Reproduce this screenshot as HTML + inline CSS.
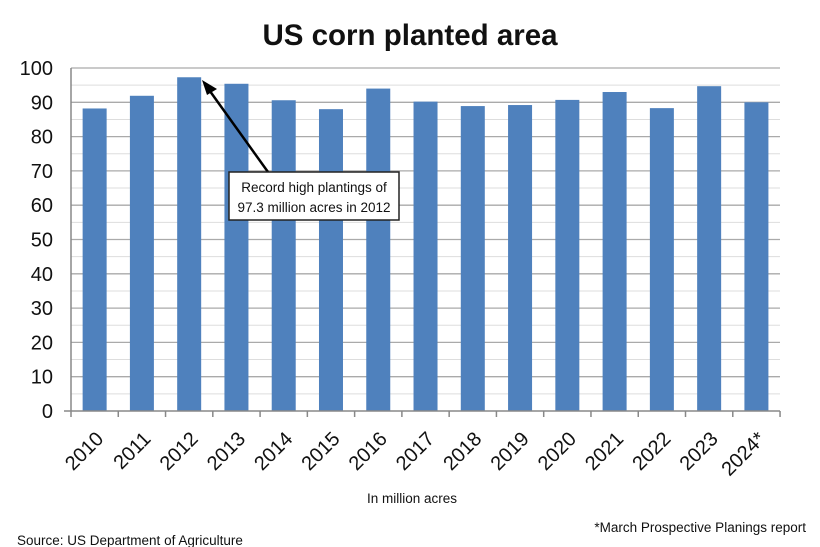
<!DOCTYPE html>
<html><head><meta charset="utf-8"><style>
body{margin:0;background:#fff}
svg{display:block;font-family:"Liberation Sans",sans-serif}
</style></head><body>
<svg width="820" height="547" viewBox="0 0 820 547">
<rect width="820" height="547" fill="#fff"/>
<text x="410" y="45" text-anchor="middle" font-size="29.5" font-weight="bold" fill="#111">US corn planted area</text>
<g id="grid"></g>
<g id="bars"></g>
<line x1="71" y1="68" x2="71" y2="411" stroke="#888" stroke-width="1.5"/>
<line x1="64" y1="411" x2="780" y2="411" stroke="#888" stroke-width="1.5"/>
<g id="ylab" font-size="20" fill="#111" text-anchor="end"></g>
<g id="xlab" font-size="20" fill="#111" text-anchor="end"></g>
<line x1="268" y1="172" x2="207" y2="87" stroke="#000" stroke-width="2.5"/>
<polygon points="202,80 217,89 207,95" fill="#000"/>
<rect x="229" y="172" width="170" height="48" fill="#fff" stroke="#222" stroke-width="1.5"/>
<text x="314" y="192" text-anchor="middle" font-size="13.5" fill="#111">Record high plantings of</text>
<text x="314" y="212" text-anchor="middle" font-size="13.5" fill="#111">97.3 million acres in 2012</text>
<text x="412" y="503" text-anchor="middle" font-size="13.5" fill="#111">In million acres</text>
<text x="17" y="545" font-size="13.5" fill="#111">Source: US Department of Agriculture</text>
<text x="806" y="532" text-anchor="end" font-size="13.5" fill="#111">*March Prospective Planings report</text>
</svg>
<script>
const ns="http://www.w3.org/2000/svg";
function el(p,t,a,txt){const e=document.createElementNS(ns,t);for(const k in a)e.setAttribute(k,a[k]);if(txt)e.textContent=txt;document.getElementById(p).appendChild(e);}
const y0=411,s=3.43,x0=71,w=47.27;
for(let v=5;v<=100;v+=5){const y=y0-v*s;el('grid','line',{x1:x0,x2:780,y1:y,y2:y,stroke:v%10?'#ddd':'#aaa','stroke-width':v%10?1:1.3});}
for(let v=0;v<=100;v+=10){el('ylab','text',{x:53,y:y0-v*s+7},String(v));}
const d=[88.2,91.9,97.3,95.4,90.6,88.0,94.0,90.2,88.9,89.2,90.7,93.0,88.3,94.7,90.0];
d.forEach((v,i)=>{const c=x0+w*(i+0.5);el('bars','rect',{x:c-12,y:y0-v*s,width:24,height:v*s,fill:'#4f81bd'});
el('bars','line',{x1:x0+w*(i+1),x2:x0+w*(i+1),y1:y0,y2:y0+6,stroke:'#888','stroke-width':1.5});
const lab=i==14?'2024*':String(2010+i);
const lx=c+10,ly=440;
el('xlab','text',{x:lx,y:ly,transform:`rotate(-45 ${lx} ${ly})`},lab);});
el('bars','line',{x1:x0,x2:x0,y1:y0,y2:y0+6,stroke:'#888','stroke-width':1.5});
</script>
</body></html>
